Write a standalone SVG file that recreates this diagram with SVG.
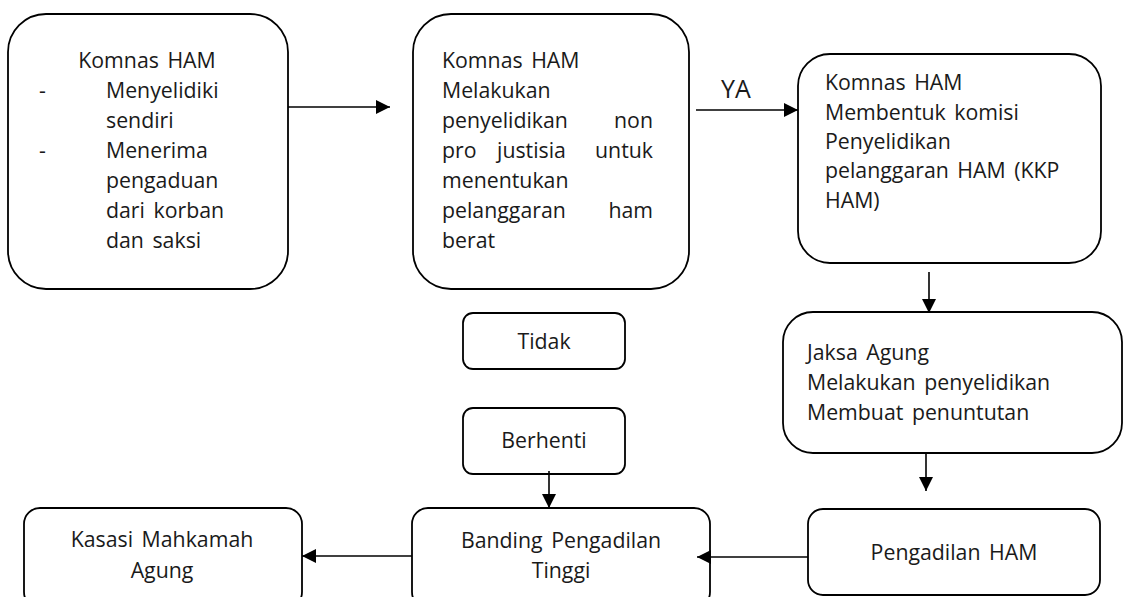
<svg xmlns="http://www.w3.org/2000/svg" width="1124" height="597" viewBox="0 0 1124 597">
<style>
.box{fill:#fff;stroke:#000;stroke-width:1.8}
.t{font-family:"Open Sans","Liberation Sans",sans-serif;font-size:21.3px;fill:#1a1a1a;word-spacing:3px}
.c{text-anchor:middle}
.e{text-anchor:end}
.ln{stroke:#000;stroke-width:1.6;fill:none}
</style>
<defs>
<marker id="ah" viewBox="0 0 14 14" refX="14" refY="7" markerWidth="14" markerHeight="14" markerUnits="userSpaceOnUse" orient="auto">
<path d="M0,0 L14,7 L0,14 Z" fill="#000"/>
</marker>
</defs>
<rect width="1124" height="597" fill="#fff"/>

<g id="n1">
<rect class="box" x="8" y="14" width="280" height="275" rx="38"/>
<text class="t c" x="147" y="68">Komnas HAM</text>
<text class="t" x="39" y="98">-</text>
<text class="t" x="106" y="98">Menyelidiki</text>
<text class="t" x="106" y="128">sendiri</text>
<text class="t" x="39" y="158">-</text>
<text class="t" x="106" y="158">Menerima</text>
<text class="t" x="106" y="188">pengaduan</text>
<text class="t" x="106" y="218">dari korban</text>
<text class="t" x="106" y="248">dan saksi</text>
</g>

<g id="n2">
<rect class="box" x="413" y="14" width="276" height="275" rx="38"/>
<text class="t" x="442" y="68">Komnas HAM</text>
<text class="t" x="442" y="98">Melakukan</text>
<text class="t" x="442" y="128">penyelidikan</text>
<text class="t e" x="653" y="128">non</text>
<text class="t" x="442" y="158">pro</text>
<text class="t" x="497" y="158">justisia</text>
<text class="t e" x="653" y="158">untuk</text>
<text class="t" x="442" y="188">menentukan</text>
<text class="t" x="442" y="218">pelanggaran</text>
<text class="t e" x="653" y="218">ham</text>
<text class="t" x="442" y="248">berat</text>
</g>

<g id="n3">
<rect class="box" x="798" y="54" width="303" height="209" rx="32"/>
<text class="t" x="825" y="90">Komnas HAM</text>
<text class="t" x="825" y="120">Membentuk komisi</text>
<text class="t" x="825" y="149">Penyelidikan</text>
<text class="t" x="825" y="178">pelanggaran HAM (KKP</text>
<text class="t" x="825" y="208">HAM)</text>
</g>

<g id="n4">
<rect class="box" x="783" y="312" width="339" height="141" rx="30"/>
<text class="t" x="807" y="360">Jaksa Agung</text>
<text class="t" x="807" y="390">Melakukan penyelidikan</text>
<text class="t" x="807" y="420">Membuat penuntutan</text>
</g>

<g id="n5">
<rect class="box" x="808" y="509" width="292" height="86" rx="15"/>
<text class="t c" x="954" y="560">Pengadilan HAM</text>
</g>

<g id="n6">
<rect class="box" x="412" y="508" width="298" height="100" rx="16"/>
<text class="t c" x="561" y="548">Banding Pengadilan</text>
<text class="t c" x="561" y="578">Tinggi</text>
</g>

<g id="n7">
<rect class="box" x="24" y="508" width="278" height="100" rx="16"/>
<text class="t c" x="162" y="547">Kasasi Mahkamah</text>
<text class="t c" x="162" y="578">Agung</text>
</g>

<g id="n8">
<rect class="box" x="463" y="313" width="162" height="56" rx="10"/>
<text class="t c" x="544" y="349">Tidak</text>
</g>

<g id="n9">
<rect class="box" x="463" y="408" width="162" height="66" rx="10"/>
<text class="t c" x="544" y="448">Berhenti</text>
</g>

<g id="connectors">
<line class="ln" x1="288" y1="107" x2="390" y2="107" marker-end="url(#ah)"/>
<line class="ln" x1="696" y1="110" x2="798" y2="110" marker-end="url(#ah)"/>
<text class="t" x="721" y="98" style="font-size:25px">YA</text>
<line class="ln" x1="929" y1="272" x2="929" y2="313" marker-end="url(#ah)"/>
<line class="ln" x1="926" y1="453" x2="926" y2="491" marker-end="url(#ah)"/>
<line class="ln" x1="808" y1="557" x2="697" y2="557" marker-end="url(#ah)"/>
<line class="ln" x1="412" y1="556" x2="302" y2="556" marker-end="url(#ah)"/>
<line class="ln" x1="549" y1="471" x2="549" y2="508" marker-end="url(#ah)"/>
</g>
</svg>
